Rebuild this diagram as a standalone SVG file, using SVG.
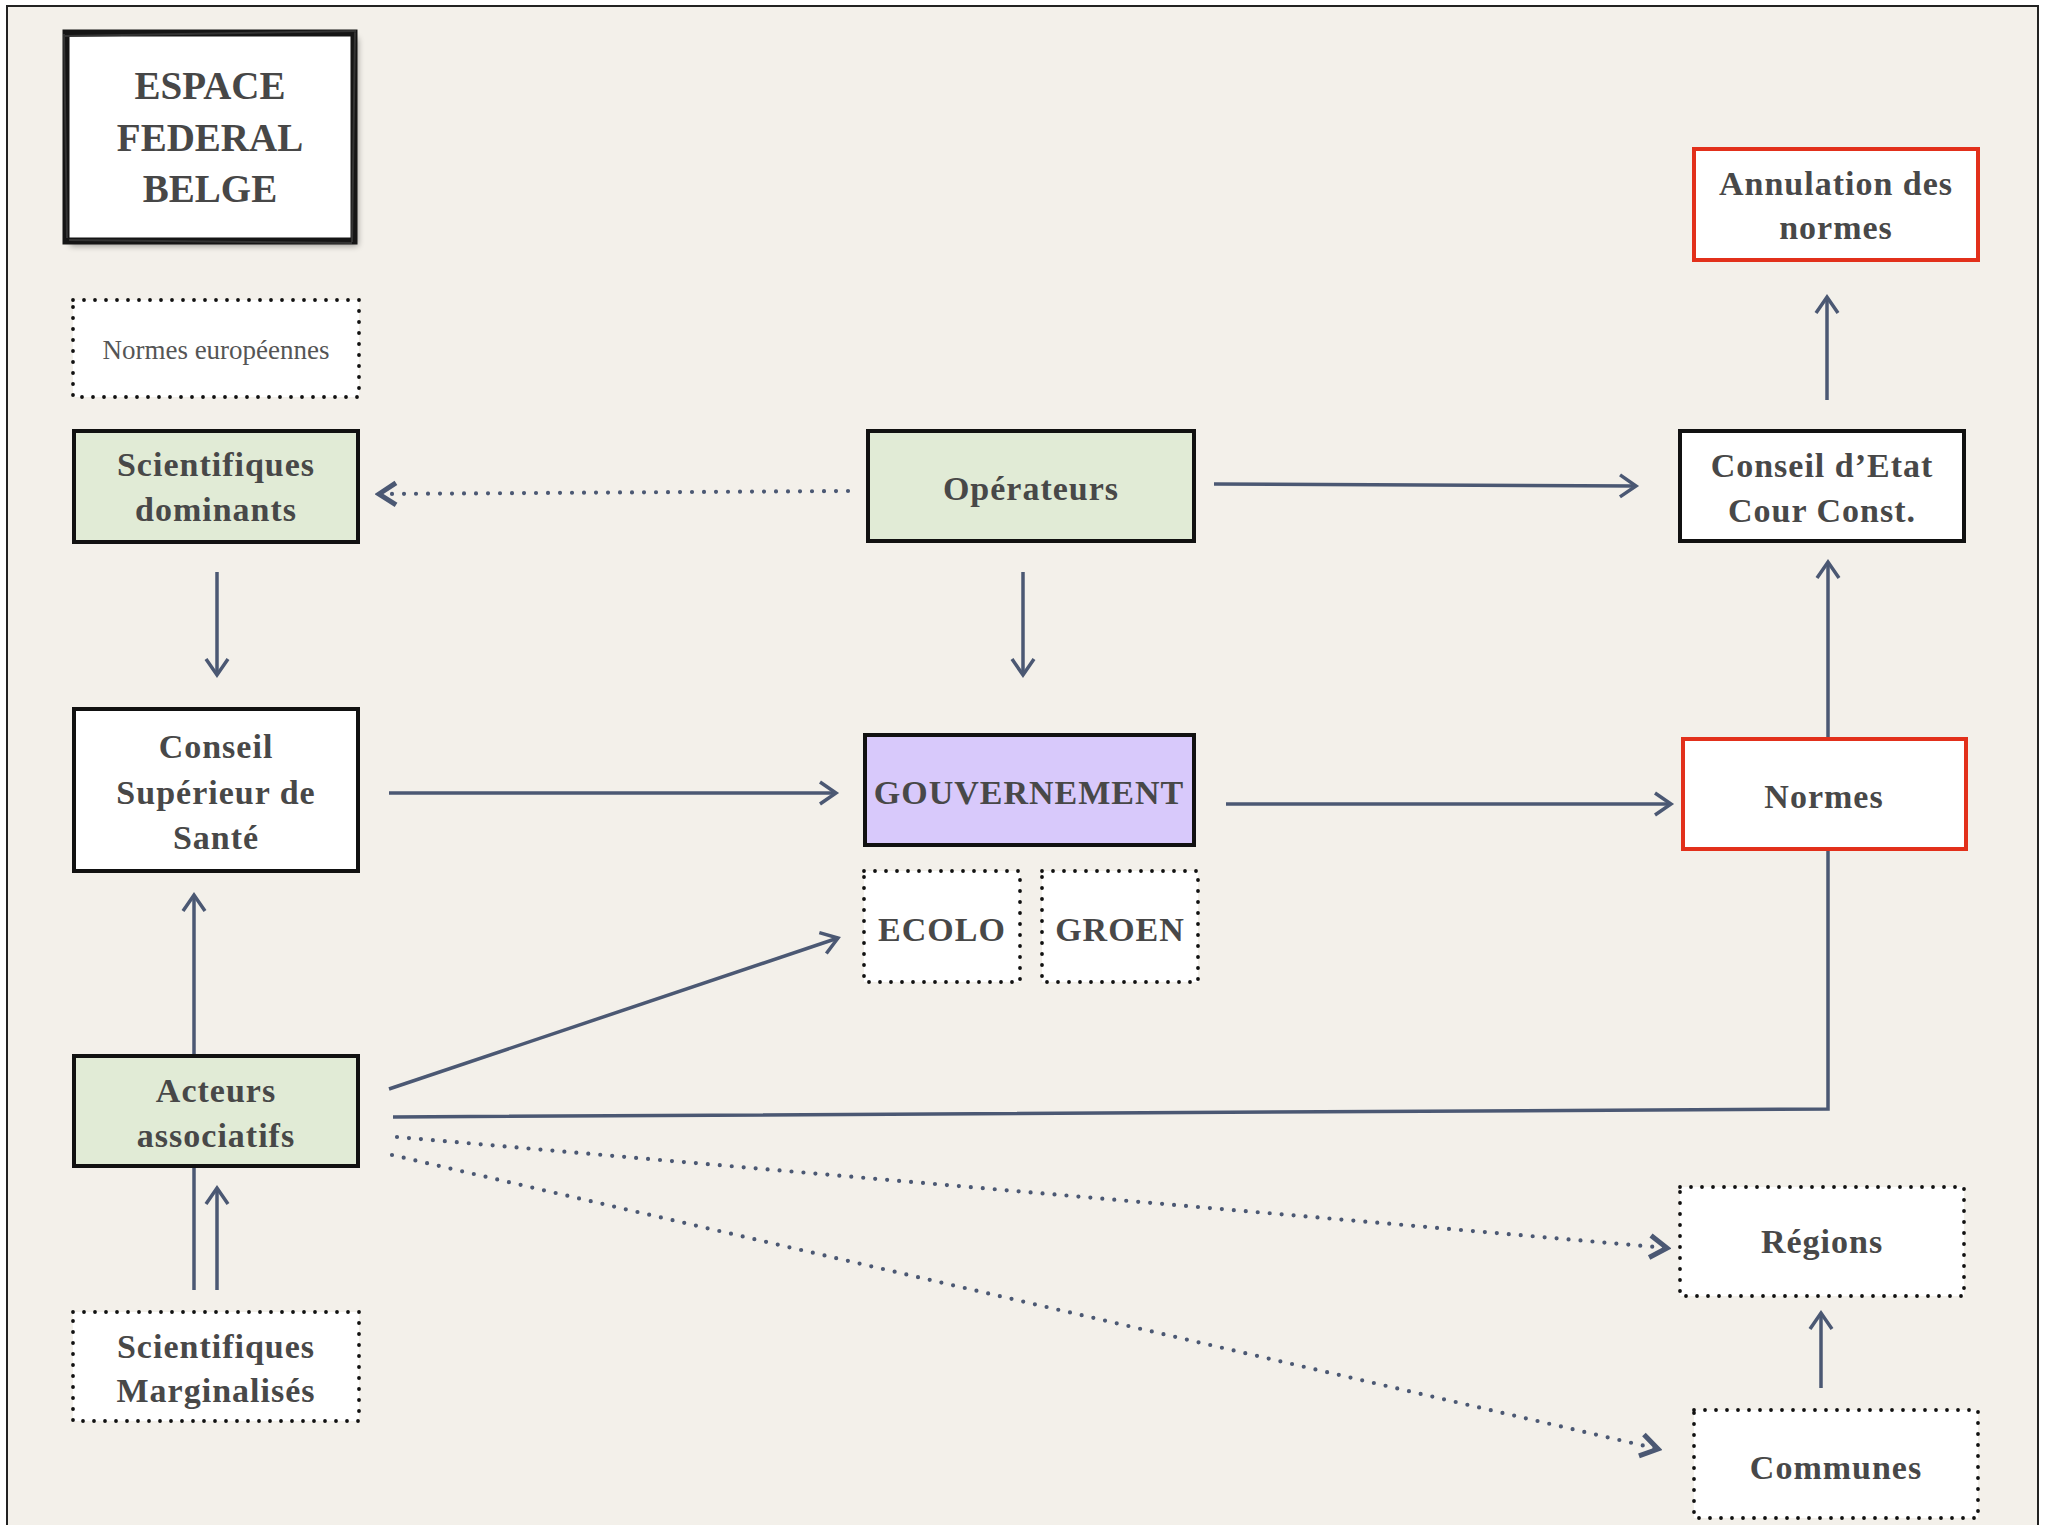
<svg xmlns="http://www.w3.org/2000/svg" width="2049" height="1525" viewBox="0 0 2049 1525">
<defs>
<style>
.lbl{font-family:"Liberation Serif","Times New Roman",serif;font-weight:bold;font-size:34px;fill:#484848;text-anchor:middle;letter-spacing:1px}
.ttl{font-family:"Liberation Serif","Times New Roman",serif;font-weight:bold;font-size:39px;fill:#474747;text-anchor:middle}
.reg{font-family:"Liberation Serif","Times New Roman",serif;font-size:27px;fill:#555;text-anchor:middle}
.box{stroke:#111;stroke-width:4}
.green{fill:#e1ebd6}
.white{fill:#fff}
.lav{fill:#d8c9fb}
.red{fill:#fff;stroke:#e2301b;stroke-width:4}
.dot{fill:#fff;stroke:#111;stroke-width:3.8;stroke-dasharray:0 11;stroke-linecap:round}
.ln{fill:none;stroke:#4b5873;stroke-width:3.5}
.dl{fill:none;stroke:#4b5873;stroke-width:4.2;stroke-dasharray:0 12;stroke-linecap:round}
</style>
<marker id="arr" markerUnits="userSpaceOnUse" viewBox="-20 -14 24 28" refX="0" refY="0" markerWidth="24" markerHeight="28" orient="auto">
<path d="M -16 -11 L 0 0 L -16 11" fill="none" stroke="#4b5873" stroke-width="3.5"/>
</marker>
<marker id="arrd" markerUnits="userSpaceOnUse" viewBox="-22 -15 26 30" refX="0" refY="0" markerWidth="26" markerHeight="30" orient="auto">
<path d="M -17 -11 L 0 0 L -17 11" fill="none" stroke="#4b5873" stroke-width="5"/>
</marker>
<filter id="sh" x="-10%" y="-10%" width="130%" height="130%">
<feGaussianBlur stdDeviation="3"/>
</filter>
</defs>
<rect x="0" y="0" width="2049" height="1525" fill="#fff"/>
<rect x="7" y="6" width="2031" height="1540" fill="#f3f0ea" stroke="#222" stroke-width="2"/>

<g id="connectors">
<line class="dl" x1="848" y1="491" x2="379" y2="494" marker-end="url(#arrd)"/>
<line class="ln" x1="217" y1="572" x2="217" y2="675" marker-end="url(#arr)"/>
<line class="ln" x1="389" y1="793" x2="836" y2="793" marker-end="url(#arr)"/>
<line class="ln" x1="1023" y1="572" x2="1023" y2="675" marker-end="url(#arr)"/>
<line class="ln" x1="1214" y1="484" x2="1636" y2="486" marker-end="url(#arr)"/>
<line class="ln" x1="1226" y1="804" x2="1671" y2="804" marker-end="url(#arr)"/>
<line class="ln" x1="1828" y1="738" x2="1828" y2="562" marker-end="url(#arr)"/>
<line class="ln" x1="1827" y1="400" x2="1827" y2="297" marker-end="url(#arr)"/>
<line class="ln" x1="194" y1="1290" x2="194" y2="895" marker-end="url(#arr)"/>
<line class="ln" x1="217" y1="1290" x2="217" y2="1188" marker-end="url(#arr)"/>
<line class="ln" x1="389" y1="1089" x2="838" y2="938" marker-end="url(#arr)"/>
<polyline class="ln" points="393,1117 1828,1109 1828,850"/>
<line class="dl" x1="397" y1="1137" x2="1667" y2="1248" marker-end="url(#arrd)"/>
<line class="dl" x1="392" y1="1155" x2="1658" y2="1449" marker-end="url(#arrd)"/>
<line class="ln" x1="1821" y1="1388" x2="1821" y2="1313" marker-end="url(#arr)"/>
</g>

<g id="espace">
<rect x="70" y="38" width="288" height="208" fill="#000" opacity="0.35" filter="url(#sh)"/>
<rect x="66" y="33" width="288" height="208" fill="#fff" stroke="#151515" stroke-width="7"/>
<path d="M 64 36 L 356 31 M 69 240 L 352 243 M 64 34 L 67 238 M 355 32 L 352 242" stroke="#333" stroke-width="2" fill="none"/>
<text class="ttl" x="210" y="99">ESPACE</text>
<text class="ttl" x="210" y="151">FEDERAL</text>
<text class="ttl" x="210" y="202">BELGE</text>
</g>

<g id="normes-europeennes">
<rect class="dot" x="73" y="300" width="286" height="97"/>
<text class="reg" x="216" y="359">Normes européennes</text>
</g>

<g id="scientifiques-dominants">
<rect class="box green" x="74" y="431" width="284" height="111"/>
<text class="lbl" x="216" y="476">Scientifiques</text>
<text class="lbl" x="216" y="521">dominants</text>
</g>

<g id="conseil-superieur">
<rect class="box white" x="74" y="709" width="284" height="162"/>
<text class="lbl" x="216" y="758">Conseil</text>
<text class="lbl" x="216" y="804">Supérieur de</text>
<text class="lbl" x="216" y="849">Santé</text>
</g>

<g id="acteurs-associatifs">
<rect class="box green" x="74" y="1056" width="284" height="110"/>
<text class="lbl" x="216" y="1102">Acteurs</text>
<text class="lbl" x="216" y="1147">associatifs</text>
</g>

<g id="scientifiques-marginalises">
<rect class="dot" x="73" y="1312" width="286" height="109"/>
<text class="lbl" x="216" y="1358">Scientifiques</text>
<text class="lbl" x="216" y="1402">Marginalisés</text>
</g>

<g id="operateurs">
<rect class="box green" x="868" y="431" width="326" height="110"/>
<text class="lbl" x="1031" y="500">Opérateurs</text>
</g>

<g id="gouvernement">
<rect class="box lav" x="865" y="735" width="329" height="110"/>
<text class="lbl" x="1029" y="804">GOUVERNEMENT</text>
</g>

<g id="ecolo">
<rect class="dot" x="864" y="871" width="156" height="111"/>
<text class="lbl" x="942" y="941">ECOLO</text>
</g>

<g id="groen">
<rect class="dot" x="1042" y="871" width="156" height="111"/>
<text class="lbl" x="1120" y="941">GROEN</text>
</g>

<g id="annulation">
<rect class="red" x="1694" y="149" width="284" height="111"/>
<text class="lbl" x="1836" y="195">Annulation des</text>
<text class="lbl" x="1836" y="239">normes</text>
</g>

<g id="conseil-etat">
<rect class="box white" x="1680" y="431" width="284" height="110"/>
<text class="lbl" x="1822" y="477">Conseil d’Etat</text>
<text class="lbl" x="1822" y="522">Cour Const.</text>
</g>

<g id="normes">
<rect class="red" x="1683" y="739" width="283" height="110"/>
<text class="lbl" x="1824" y="808">Normes</text>
</g>

<g id="regions">
<rect class="dot" x="1680" y="1187" width="284" height="109"/>
<text class="lbl" x="1822" y="1253">Régions</text>
</g>

<g id="communes">
<rect class="dot" x="1694" y="1410" width="284" height="108"/>
<text class="lbl" x="1836" y="1479">Communes</text>
</g>
</svg>
